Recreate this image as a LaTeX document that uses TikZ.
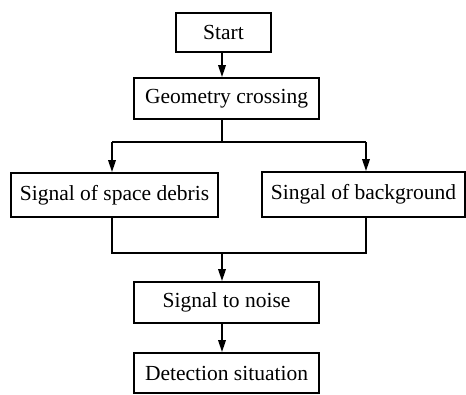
\documentclass[tikz,border=0pt]{standalone}
\usepackage{fontspec}
\setmainfont{Liberation Serif}
\usetikzlibrary{arrows.meta}
\begin{document}
\begin{tikzpicture}[x=1pt,y=-1pt,
  box/.style={draw,line width=1.8pt,rectangle,inner sep=0pt,font=\fontsize{21.5}{24}\selectfont},
  arr/.style={line width=1.8pt,-{Triangle[length=12pt,width=7.5pt]}},
  ln/.style={line width=1.8pt}]
\useasboundingbox (0,0) rectangle (466,394);
\node[box,minimum width=95pt,minimum height=39pt] (start) at (223.5,32.5) {Start};
\node[box,minimum width=185pt,minimum height=41pt] (geo) at (226.5,98.5) {Geometry crossing};
\node[box,minimum width=207pt,minimum height=44pt] (deb) at (114.5,195) {Signal of space debris};
\node[box,minimum width=203pt,minimum height=45pt] (bg) at (363.5,194.5) {Singal of background};
\node[box,minimum width=185pt,minimum height=41pt] (snr) at (226.5,302.5) {Signal to noise};
\node[box,minimum width=185pt,minimum height=40pt] (det) at (226.5,373) {Detection situation};
\coordinate (br) at (222,142);
\coordinate (mg) at (222,253);
\coordinate (brl) at (112,142);
\coordinate (brr) at (366,142);
\coordinate (mgl) at (112,253);
\coordinate (mgr) at (366,253);
\draw[arr] (br |- start.south) -- (br |- geo.north);
\draw[ln] (br |- geo.south) -- (br);
\draw[ln] (brl) -- (brr);
\draw[arr] (brl) -- (brl |- deb.north);
\draw[arr] (brr) -- (brr |- bg.north);
\draw[ln] (brl |- deb.south) -- (mgl) -- (mgr) -- (mgr |- bg.south);
\draw[arr] (mg) -- (mg |- snr.north);
\draw[arr] (mg |- snr.south) -- (mg |- det.north);
\end{tikzpicture}
\end{document}
